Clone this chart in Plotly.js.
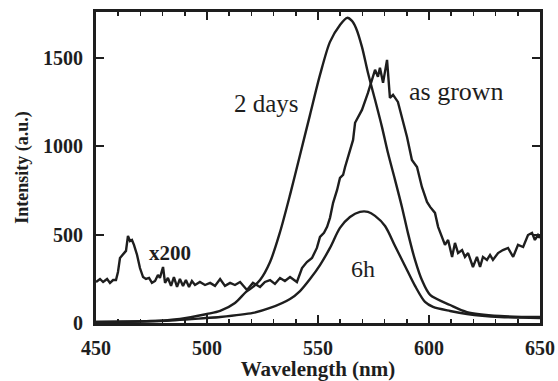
<!DOCTYPE html>
<html>
<head>
<meta charset="utf-8">
<script src="https://cdn.plot.ly/plotly-3.0.1.min.js"></script>
<style>html,body{margin:0;padding:0;background:#fff;}#chart{width:558px;height:381px;}</style>
</head>
<body>
<div id="chart"></div>
<script>
// "as grown" spectrum (x200), noisy
const asGrownWl = [
  450.0,451.8,453.2,455.0,456.3,457.7,459.0,459.9,460.8,462.2,
  463.5,464.4,465.3,466.2,467.1,468.5,469.8,471.2,472.5,473.9,
  475.2,476.6,477.9,478.8,480.2,481.1,482.4,483.8,485.1,486.5,
  487.8,489.2,490.5,491.9,493.2,494.6,496.8,499.1,501.4,503.6,
  505.9,508.1,510.4,512.6,514.9,518.0,520.7,523.9,526.1,528.4,
  530.6,532.9,535.1,537.4,540.5,542.8,545.0,547.3,549.5,550.9,
  552.7,554.1,555.4,556.8,558.6,559.9,561.3,562.2,564.4,565.8,
  566.7,569.8,572.5,574.3,575.7,577.0,577.9,579.3,581.1,582.4,
  583.8,586.0,587.8,590.1,592.3,594.6,596.8,599.1,600.5,602.7,
  604.1,605.9,607.2,608.6,610.4,611.7,613.1,614.9,616.2,617.6,
  619.8,621.6,623.0,624.3,626.1,627.5,628.8,631.1,633.3,635.6,
  637.9,640.1,642.4,644.6,646.4,647.7,649.1,650.0
];
const asGrownInt = [
  232,249,232,249,227,243,243,289,368,391,
  408,493,464,470,442,385,311,260,249,255,
  227,238,272,255,317,227,255,210,260,204,
  249,210,243,204,238,215,232,215,227,210,
  249,210,227,215,232,187,227,204,232,243,
  221,255,238,260,232,311,345,368,425,487,
  510,544,595,680,753,821,838,883,980,1036,
  1133,1206,1302,1376,1433,1393,1444,1359,1489,1274,
  1291,1251,1166,1053,923,883,770,685,657,623,
  544,487,442,470,374,453,396,413,374,396,
  317,374,317,374,357,385,357,396,413,425,
  374,442,430,498,510,470,498,481
];
// "2 days" spectrum
const days2Wl = [
  450.0,474.3,487.8,500.0,505.9,512.6,517.6,520.7,523.9,528.4,
  532.9,537.4,541.9,546.4,550.9,555.4,559.9,563.1,565.3,567.1,
  569.8,572.5,575.7,578.8,581.5,584.7,587.8,590.5,593.7,596.8,
  600.5,609.5,617.1,632.0,650.0
];
const days2Int = [
  6,11,23,51,68,113,176,204,243,345,
  515,725,951,1178,1404,1591,1687,1727,1710,1670,
  1563,1416,1263,1110,963,810,657,510,357,243,
  159,102,62,40,34
];
// "6h" spectrum
const h6Wl = [
  450.0,478.8,499.5,505.9,520.7,528.4,537.4,541.9,546.4,550.9,
  555.4,559.9,564.4,568.9,572.5,575.7,580.2,584.7,589.2,593.7,
  598.2,601.8,609.5,617.1,632.0,650.0
];
const h6Int = [
  6,11,28,34,57,85,136,181,249,328,
  425,538,600,629,629,606,549,436,323,210,
  119,91,68,51,34,28
];
const xTicks = [450,500,550,600,650];
const yTicks = [0,500,1000,1500];

const ink = '#1e1e1e';
const serif = 'Liberation Serif, Times New Roman, serif';
const lineStyle = {color: ink, width: 2.4};

const traces = [
  {x: asGrownWl, y: asGrownInt, mode: 'lines', line: lineStyle, hoverinfo: 'skip'},
  {x: days2Wl, y: days2Int, mode: 'lines', line: Object.assign({shape: 'spline', smoothing: 0.8}, lineStyle), hoverinfo: 'skip'},
  {x: h6Wl, y: h6Int, mode: 'lines', line: Object.assign({shape: 'spline', smoothing: 0.8}, lineStyle), hoverinfo: 'skip'}
];

const tickFont = {family: serif, size: 20, weight: 'bold', color: ink};
const layout = {
  width: 558, height: 381,
  margin: {l: 96, r: 18, t: 12, b: 58},
  paper_bgcolor: '#fff', plot_bgcolor: '#fff',
  showlegend: false,
  xaxis: {
    range: [450, 650], tickvals: xTicks, ticktext: xTicks.map(String),
    ticks: 'inside', ticklen: 8, tickwidth: 2, tickcolor: ink,
    minor: {dtick: 10, ticks: 'inside', ticklen: 4, tickwidth: 1.5, tickcolor: ink},
    showline: true, linewidth: 3, linecolor: ink, mirror: 'ticks',
    showgrid: false, zeroline: false,
    tickfont: tickFont, ticklabelstandoff: 5,
    title: {text: 'Wavelength (nm)', font: {family: serif, size: 21, weight: 'bold', color: ink}, standoff: 11}
  },
  yaxis: {
    range: [0, 1760], tickvals: yTicks, ticktext: yTicks.map(String),
    ticks: 'inside', ticklen: 8, tickwidth: 2, tickcolor: ink,
    showline: true, linewidth: 3, linecolor: ink, mirror: 'ticks',
    showgrid: false, zeroline: false,
    tickfont: tickFont, ticklabelstandoff: 6,
    title: {text: 'Intensity (a.u.)', font: {family: serif, size: 18, weight: 'bold', color: ink}, standoff: 10}
  },
  annotations: [
    {x: 526.6, y: 1240, text: '2 days', showarrow: false, xanchor: 'center', yanchor: 'middle', font: {family: serif, size: 25, color: ink}},
    {x: 612.2, y: 1308, text: 'as grown', showarrow: false, xanchor: 'center', yanchor: 'middle', font: {family: serif, size: 26, color: ink}},
    {x: 570.3, y: 306, text: '6h', showarrow: false, xanchor: 'center', yanchor: 'middle', font: {family: serif, size: 24, color: ink}},
    {x: 483.3, y: 396, text: 'x200', showarrow: false, xanchor: 'center', yanchor: 'middle', font: {family: serif, size: 21, weight: 'bold', color: ink}}
  ]
};
Plotly.newPlot('chart', traces, layout, {staticPlot: true, displayModeBar: false});
</script>
</body>
</html>
